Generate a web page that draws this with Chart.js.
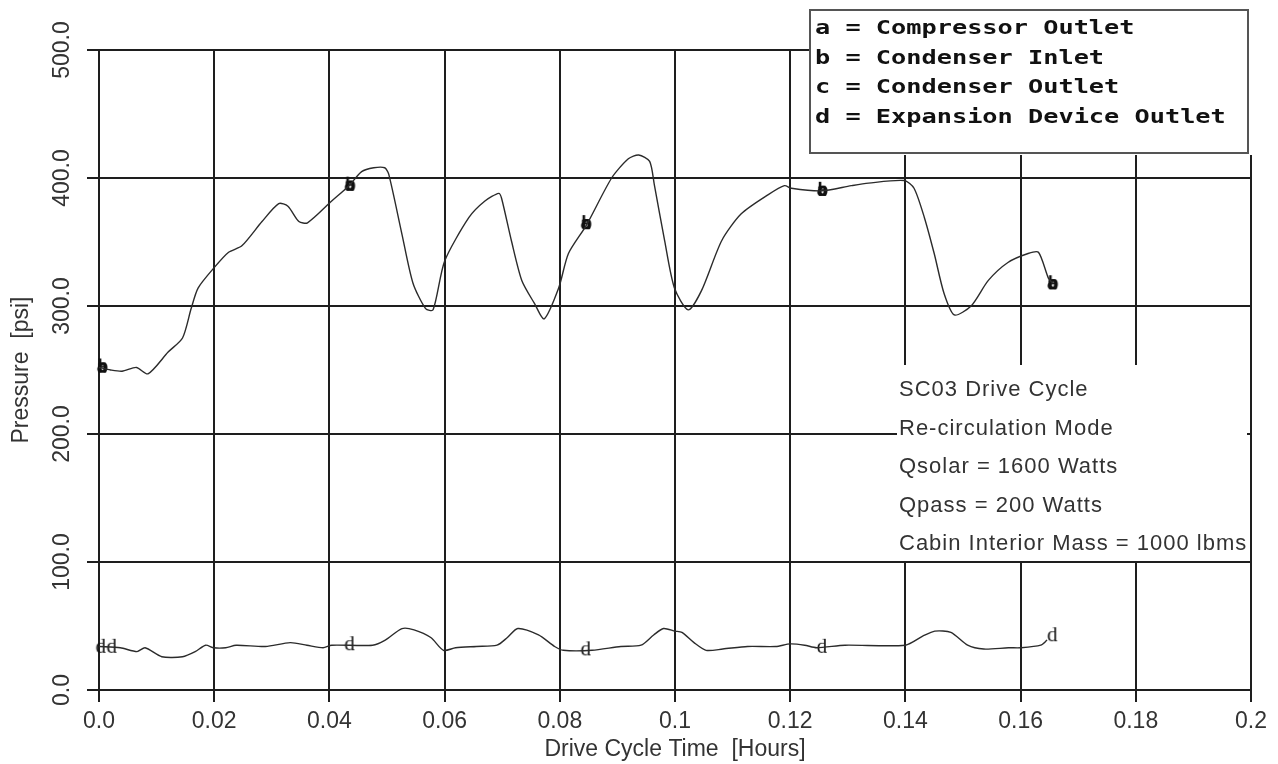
<!DOCTYPE html>
<html>
<head>
<meta charset="utf-8">
<title>SC03 Drive Cycle - Pressure</title>
<script src="https://cdn.jsdelivr.net/npm/chart.js@4.4.1/dist/chart.umd.min.js"></script>
<style>
  html, body { margin: 0; padding: 0; background: #fff; }
  #wrap { width: 1278px; height: 764px; }
</style>
</head>
<body>
<div id="wrap"><canvas id="pressureChart" width="1278" height="764"></canvas></div>
<script>
// high side: compressor outlet, condenser inlet and condenser outlet lie on one trace
const highTime = [0.0000, 0.0020, 0.0040, 0.0065, 0.0085, 0.0120, 0.0145, 0.0160, 0.0172, 0.0200,
  0.0225, 0.0248, 0.0283, 0.0312, 0.0328, 0.0347, 0.0362, 0.0404, 0.0434, 0.0456,
  0.0477, 0.0496, 0.0503, 0.0526, 0.0545, 0.0567, 0.0580, 0.0600, 0.0642, 0.0670,
  0.0694, 0.0699, 0.0716, 0.0734, 0.0756, 0.0773, 0.0798, 0.0815, 0.0846, 0.0890,
  0.0919, 0.0937, 0.0956, 0.0964, 0.0982, 0.0999, 0.1023, 0.1046, 0.1081, 0.1115,
  0.1162, 0.1190, 0.1202, 0.1254, 0.1306, 0.1336, 0.1398, 0.1415, 0.1433, 0.1450,
  0.1467, 0.1485, 0.1514, 0.1544, 0.1578, 0.1613, 0.1631, 0.1648, 0.1655];
const highPressure = [252, 250, 249, 252, 247, 264, 275, 298, 314, 330,
  342, 347, 366, 380, 378, 366, 365, 382, 394, 405,
  408, 408, 403, 356, 318, 298, 297, 335, 369, 382,
  388, 384, 351, 320, 302, 290, 314, 341, 363, 400,
  415, 418, 413, 395, 351, 314, 297, 312, 351, 372,
  387, 394, 392, 390, 394, 396, 398, 392, 369, 341,
  310, 293, 300, 320, 334, 341, 342, 322, 318];

// expansion device outlet
const lowTime = [0.0000, 0.0037, 0.0066, 0.0080, 0.0109, 0.0145, 0.0167, 0.0185, 0.0199, 0.0220,
  0.0238, 0.0289, 0.0332, 0.0361, 0.0389, 0.0404, 0.0475, 0.0497, 0.0526, 0.0547,
  0.0576, 0.0598, 0.0619, 0.0655, 0.0691, 0.0709, 0.0727, 0.0763, 0.0791, 0.0806,
  0.0856, 0.0906, 0.0941, 0.0963, 0.0980, 0.1000, 0.1012, 0.1033, 0.1054, 0.1083,
  0.1126, 0.1175, 0.1200, 0.1225, 0.1246, 0.1295, 0.1400, 0.1430, 0.1451, 0.1479,
  0.1508, 0.1536, 0.1579, 0.1600, 0.1635, 0.1646];
const lowPressure = [34, 33, 30, 33, 26, 26, 30, 35, 33, 33,
  35, 34, 37, 35, 33, 35, 35, 39, 48, 47,
  41, 31, 33, 34, 35, 41, 48, 43, 34, 31,
  31, 34, 35, 43, 48, 46, 45, 37, 31, 32,
  34, 34, 36, 35, 33, 35, 35, 42, 46, 45,
  35, 32, 33, 33, 35, 39];

// letter markers
const markerTime = [0.0005, 0.0435, 0.0845, 0.1255, 0.1655];
const markerHigh = [252, 394, 364, 390, 317];
const markerLowTime = [0.0003, 0.0022, 0.0435, 0.0845, 0.1255, 0.1655];
const markerLow = [33, 33, 35, 31, 33, 42];

const xTickValues = [0, 0.02, 0.04, 0.06, 0.08, 0.1, 0.12, 0.14, 0.16, 0.18, 0.2];
const xTickLabels = ['0.0', '0.02', '0.04', '0.06', '0.08', '0.1', '0.12', '0.14', '0.16', '0.18', '0.2'];
const yTickValues = [0, 100, 200, 300, 400, 500];
const yTickLabels = ['0.0', '100.0', '200.0', '300.0', '400.0', '500.0'];

const legendLines = ['a = Compressor Outlet', 'b = Condenser Inlet', 'c = Condenser Outlet', 'd = Expansion Device Outlet'];
const noteLines = ['SC03 Drive Cycle', 'Re-circulation Mode', 'Qsolar = 1600 Watts', 'Qpass = 200 Watts', 'Cabin Interior Mass = 1000 lbms'];

const gridColor = '#1e1e1e';
const textColor = '#333';
const sansFont = '"Liberation Sans", Arial, sans-serif';

function toPoints(xs, ys) {
  return xs.map((x, i) => ({ x: x, y: ys[i] }));
}

function letterImage(ch, font, dx) {
  const c = document.createElement('canvas');
  c.width = 24;
  c.height = 26;
  const g = c.getContext('2d');
  g.font = font;
  g.fillStyle = '#111';
  g.textAlign = 'center';
  g.textBaseline = 'alphabetic';
  g.fillText(ch, 12 + dx, 18);
  return c;
}

const markFont = 'bold 18px "DejaVu Sans Mono", "Liberation Mono", monospace';
const imgA = letterImage('a', markFont, 0);
const imgB = letterImage('b', markFont, 1);
const imgC = letterImage('c', markFont, 0);
const imgD = letterImage('d', '21px "Liberation Serif", "Times New Roman", serif', 0);

// y tick labels (rotated), legend box and the note block
const boxesPlugin = {
  id: 'boxes',
  afterDraw(chart) {
    const g = chart.ctx;
    const ys = chart.scales.y;
    g.save();

    g.font = '23px ' + sansFont;
    g.fillStyle = textColor;
    g.textAlign = 'center';
    g.textBaseline = 'alphabetic';
    ys.ticks.forEach((t, i) => {
      const y = ys.getPixelForValue(t.value);
      g.save();
      g.translate(61, y);
      g.rotate(-Math.PI / 2);
      g.fillText(yTickLabels[i], 0, 8);
      g.restore();
    });

    // note block
    g.fillStyle = '#fff';
    g.fillRect(897, 365, 350, 196);
    g.fillStyle = textColor;
    g.font = '22px ' + sansFont;
    g.textAlign = 'left';
    g.textBaseline = 'middle';
    if ('letterSpacing' in g) g.letterSpacing = '1px';
    noteLines.forEach((line, i) => {
      g.fillText(line, 899, 390 + i * 38.6);
    });
    if ('letterSpacing' in g) g.letterSpacing = '0px';

    // legend box
    g.fillStyle = '#fff';
    g.fillRect(809, 9, 446, 146);
    g.strokeStyle = '#555';
    g.lineWidth = 2;
    g.strokeRect(810, 10, 438, 143);
    g.fillStyle = '#111';
    g.font = 'bold 19px "DejaVu Sans Mono", "Liberation Mono", monospace';
    legendLines.forEach((line, i) => {
      g.save();
      g.translate(815, 29 + i * 29.7);
      g.scale(1.33, 1);
      g.fillText(line, 0, 0);
      g.restore();
    });

    g.restore();
  }
};

const ctx = document.getElementById('pressureChart').getContext('2d');
const chart = new Chart(ctx, {
  type: 'line',
  data: {
    datasets: [
      {
        label: 'High side',
        data: toPoints(highTime, highPressure),
        borderColor: '#2b2b2b',
        borderWidth: 1.4,
        pointRadius: 0,
        tension: 0.25,
        fill: false,
      },
      {
        label: 'Expansion Device Outlet',
        data: toPoints(lowTime, lowPressure),
        borderColor: '#2b2b2b',
        borderWidth: 1.4,
        pointRadius: 0,
        tension: 0.25,
        fill: false,
      },
      { label: 'a', data: toPoints(markerTime, markerHigh), showLine: false, pointStyle: imgA, pointRadius: 10, clip: false },
      { label: 'b', data: toPoints(markerTime, markerHigh), showLine: false, pointStyle: imgB, pointRadius: 10, clip: false },
      { label: 'c', data: toPoints(markerTime, markerHigh), showLine: false, pointStyle: imgC, pointRadius: 10, clip: false },
      { label: 'd', data: toPoints(markerLowTime, markerLow), showLine: false, pointStyle: imgD, pointRadius: 10, clip: false },
    ],
  },
  options: {
    responsive: false,
    animation: false,
    devicePixelRatio: 1,
    layout: { padding: { left: 0, top: 50, right: 27, bottom: 0 } },
    plugins: {
      legend: { display: false },
      tooltip: { enabled: false },
    },
    scales: {
      x: {
        type: 'linear',
        min: 0,
        max: 0.2,
        afterBuildTicks: (scale) => { scale.ticks = xTickValues.map(v => ({ value: v })); },
        afterFit: (scale) => { scale.height = 74; },
        grid: { color: gridColor, lineWidth: 2, tickLength: 12 },
        border: { color: gridColor, width: 2 },
        ticks: {
          callback: (v, i) => xTickLabels[i],
          font: { family: sansFont, size: 23 },
          color: textColor,
          padding: 6,
          maxRotation: 0,
          autoSkip: false,
        },
        title: {
          display: true,
          text: 'Drive Cycle Time  [Hours]',
          font: { family: sansFont, size: 23 },
          color: textColor,
          padding: { top: 0, bottom: 1 },
        },
      },
      y: {
        type: 'linear',
        min: 0,
        max: 500,
        afterBuildTicks: (scale) => { scale.ticks = yTickValues.map(v => ({ value: v })); },
        afterFit: (scale) => { scale.width = 99; },
        grid: { color: gridColor, lineWidth: 2, tickLength: 12 },
        border: { color: gridColor, width: 2 },
        ticks: { display: false },
        title: {
          display: true,
          text: 'Pressure  [psi]',
          font: { family: sansFont, size: 23 },
          color: textColor,
          padding: { top: 8, bottom: 0 },
        },
      },
    },
  },
  plugins: [boxesPlugin],
});
</script>
</body>
</html>
